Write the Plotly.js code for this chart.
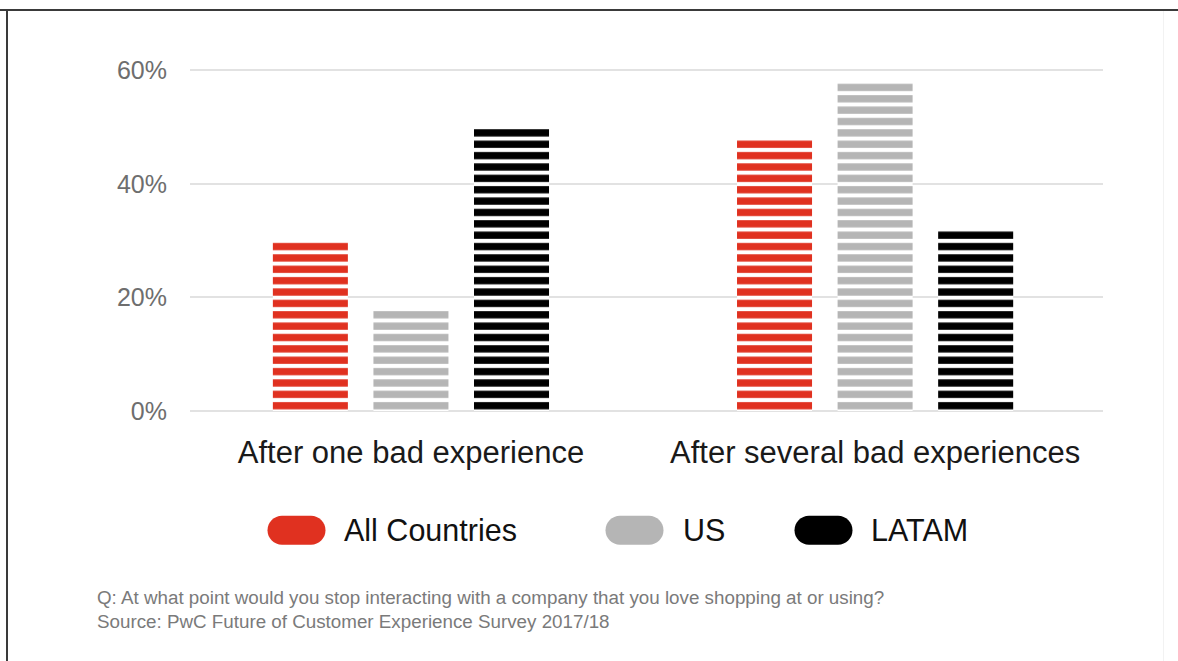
<!DOCTYPE html>
<html>
<head>
<meta charset="utf-8">
<script src="https://cdn.plot.ly/plotly-3.0.1.min.js"></script>
<style>
  html, body { margin: 0; padding: 0; background: #ffffff; }
  #wrap { position: relative; width: 1178px; height: 661px; overflow: hidden; }
  #chart { position: absolute; left: 0; top: 0; width: 1178px; height: 661px; }
  .frame-top { position: absolute; left: 0; top: 9px; width: 1178px; height: 2px; background: #3a3a3a; z-index: 5; }
  .frame-left { position: absolute; left: 6px; top: 9px; width: 2px; height: 652px; background: #3a3a3a; z-index: 5; }
  .frame-right { position: absolute; left: 1163px; top: 11px; width: 1px; height: 650px; background: #f2f2f2; z-index: 5; }
</style>
</head>
<body>
<div id="wrap">
  <div id="chart"></div>
  <div class="frame-top"></div>
  <div class="frame-left"></div>
  <div class="frame-right"></div>
</div>
<script>
// ---- data ----
const categories = ["After one bad experience", "After several bad experiences"];
const seriesNames = ["All Countries", "US", "LATAM"];
const allCountries = [30, 48];
const us = [18, 58];
const latam = [50, 32];
const yTickVals = [0, 20, 40, 60];
const yTickText = ["0%", "20%", "40%", "60%"];
const footnoteLines = [
  "Q: At what point would you stop interacting with a company that you love shopping at or using?",
  "Source: PwC Future of Customer Experience Survey 2017/18"
];

// ---- styling ----
const colors = ["#e03120", "#b5b5b5", "#000000"];
const W = 1178, H = 661;
const ML = 190, MR = 75, MB = 250;
const Y_MAX = 62;
const pxPerUnit = 5.684;
const plotH = Y_MAX * pxPerUnit;
const MT = H - MB - plotH;
const plotW = W - ML - MR;
const stripe = 2 * pxPerUnit;

function px2x(px) { return (px - ML) / plotW; }
function px2y(py) { return (H - MB - py) / plotH; }

const seriesValues = [allCountries, us, latam];
const traces = seriesNames.map((name, i) => ({
  type: "bar",
  name: name,
  x: categories,
  y: seriesValues[i],
  marker: {
    color: colors[i],
    line: { width: 0 },
    pattern: {
      shape: "-",
      fillmode: "replace",
      fgcolor: colors[i],
      bgcolor: "#ffffff",
      size: stripe,
      solidity: 0.64
    }
  },
  hoverinfo: "skip"
}));

// custom pill legend
function pillPath(r, half) {
  const k = 0.5523 * r;
  return `M ${-half + r},${-r} H ${half - r} C ${half - r + k},${-r} ${half},${-k} ${half},0 ` +
         `C ${half},${k} ${half - r + k},${r} ${half - r},${r} H ${-half + r} ` +
         `C ${-half + r - k},${r} ${-half},${k} ${-half},0 C ${-half},${-k} ${-half + r - k},${-r} ${-half + r},${-r} Z`;
}
const legendPillCenters = [296.5, 634.5, 823.5];
const legendTextLeft = [342, 681, 869];
const legendY = 530.5;

const shapes = seriesNames.map((n, i) => ({
  type: "path",
  xref: "paper", yref: "paper",
  xsizemode: "pixel", ysizemode: "pixel",
  xanchor: px2x(legendPillCenters[i]),
  yanchor: px2y(legendY),
  path: pillPath(14.5, 29),
  fillcolor: colors[i],
  line: { width: 0 },
  layer: "above"
}));

const annotations = seriesNames.map((n, i) => ({
  xref: "paper", yref: "paper",
  x: px2x(legendTextLeft[i]), y: px2y(legendY),
  xanchor: "left", yanchor: "middle",
  text: n, showarrow: false,
  font: { family: "Liberation Sans, Arial, sans-serif", size: 30.5, color: "#111111" }
}));
annotations.push({
  xref: "paper", yref: "paper",
  x: px2x(95), y: px2y(609.5),
  xanchor: "left", yanchor: "middle", align: "left",
  text: footnoteLines.join("<br>"), showarrow: false,
  font: { family: "Liberation Sans, Arial, sans-serif", size: 18.8, color: "#7a7a7a" }
});

const layout = {
  width: W, height: H,
  margin: { l: ML, r: MR, t: MT, b: MB, pad: 0 },
  paper_bgcolor: "#ffffff",
  plot_bgcolor: "#ffffff",
  showlegend: false,
  barmode: "group",
  bargap: 0.35,
  bargroupgap: 0.254,
  font: { family: "Liberation Sans, Arial, sans-serif" },
  xaxis: {
    type: "category",
    range: [-0.476, 1.491],
    showgrid: false,
    zeroline: false,
    showline: false,
    ticks: "",
    ticklabelstandoff: 20,
    tickfont: { family: "Liberation Sans, Arial, sans-serif", size: 31, color: "#1a1a1a" },
    fixedrange: true
  },
  yaxis: {
    range: [0, Y_MAX],
    tickvals: yTickVals,
    ticktext: yTickText,
    showgrid: true,
    gridcolor: "#e2e2e2",
    gridwidth: 2,
    zeroline: true,
    zerolinecolor: "#e2e2e2",
    zerolinewidth: 2,
    showline: false,
    ticks: "",
    ticklabelstandoff: 22,
    tickfont: { family: "Liberation Sans, Arial, sans-serif", size: 25, color: "#6e6e6e" },
    fixedrange: true
  },
  shapes: shapes,
  annotations: annotations
};

Plotly.newPlot("chart", traces, layout, { displayModeBar: false, staticPlot: true });
</script>
</body>
</html>
